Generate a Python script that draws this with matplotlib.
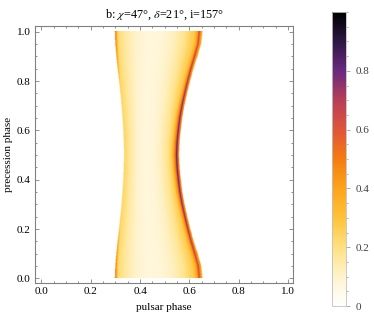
import numpy as np
import matplotlib
matplotlib.use("Agg")
import matplotlib.pyplot as plt
from matplotlib.colors import LinearSegmentedColormap
from matplotlib.ticker import MultipleLocator, FormatStrFormatter

# ---- data ----
prec_phase = [0.0, 0.05, 0.1, 0.15, 0.2, 0.25, 0.3, 0.35, 0.4, 0.45, 0.5,
              0.55, 0.6, 0.65, 0.7, 0.75, 0.8, 0.85, 0.9, 0.95, 1.0]
left_edge  = [0.299, 0.301, 0.305, 0.310, 0.316, 0.321, 0.326, 0.330, 0.333, 0.335, 0.336,
              0.335, 0.333, 0.330, 0.326, 0.321, 0.316, 0.310, 0.305, 0.301, 0.299]
peak_pos   = [0.641, 0.636, 0.622, 0.607, 0.594, 0.582, 0.571, 0.562, 0.556, 0.551, 0.549,
              0.551, 0.556, 0.562, 0.571, 0.582, 0.594, 0.607, 0.622, 0.636, 0.641]
right_gap  = [0.013, 0.013, 0.012, 0.011, 0.010, 0.010, 0.010, 0.010, 0.010, 0.010, 0.010,
              0.010, 0.010, 0.010, 0.010, 0.010, 0.010, 0.011, 0.012, 0.013, 0.013]
left_amp   = [0.55, 0.50, 0.45, 0.38, 0.30, 0.25, 0.22, 0.20, 0.18, 0.17, 0.17,
              0.17, 0.18, 0.20, 0.22, 0.25, 0.30, 0.38, 0.45, 0.50, 0.55]
peak_amp   = [0.66, 0.68, 0.72, 0.76, 0.80, 0.83, 0.86, 0.88, 0.90, 0.91, 0.92,
              0.91, 0.90, 0.88, 0.86, 0.83, 0.80, 0.76, 0.72, 0.68, 0.66]
peak_width = [1.8, 1.7, 1.5, 1.3, 1.15, 1.05, 1.0, 1.0, 1.0, 1.0, 1.0,
              1.0, 1.0, 1.0, 1.0, 1.0, 1.05, 1.15, 1.3, 1.5, 1.7]
# interior profile vs fractional position between left edge and peak
frac_pos   = [0.0, 0.05, 0.12, 0.25, 0.40, 0.55, 0.70, 0.82, 0.90, 1.0]
frac_val   = [0.24, 0.21, 0.16, 0.10, 0.07, 0.08, 0.12, 0.18, 0.25, 0.30]
# left-edge decay vs distance from edge (relative)
left_dist  = [0.0, 0.004, 0.008, 0.016, 0.03]
left_rel   = [1.0, 0.85, 0.6, 0.3, 0.0]
# peak profile vs offset from peak (relative)
peak_off   = [-0.035, -0.018, -0.008, -0.003, 0.0, 0.003, 0.007, 0.012]
peak_rel   = [0.0, 0.33, 0.5, 0.68, 1.0, 0.68, 0.55, 0.45]

# ---- build image ----
ny, nx = 246, 800
ys = np.linspace(0, 1, ny)
xs = np.linspace(0, 1, nx)
img = np.zeros((ny, nx))
for j, p in enumerate(ys):
    L = np.interp(p, prec_phase, left_edge)
    P = np.interp(p, prec_phase, peak_pos)
    R = P + np.interp(p, prec_phase, right_gap)
    la = np.interp(p, prec_phase, left_amp)
    pa = np.interp(p, prec_phase, peak_amp)
    w = np.interp(p, prec_phase, peak_width)
    inside = (xs >= L) & (xs <= R)
    u = np.clip((xs - L) / (P - L), 0, 1)
    base = np.interp(u, frac_pos, frac_val)
    lc = la * np.interp(xs - L, left_dist, left_rel)
    pc = pa * np.interp((xs - P) / w, peak_off, peak_rel, left=0, right=0.45)
    val = np.maximum(np.maximum(base, lc), pc)
    img[j] = np.where(inside, val, 0.0)

colors = [(0.0, "#ffffff"), (0.1, "#fff3cc"), (0.2, "#ffe080"), (0.3, "#ffc23a"),
          (0.4, "#fca41c"), (0.5, "#f47c10"), (0.6, "#e0553a"), (0.7, "#b93e56"),
          (0.8, "#6a2a80"), (0.9, "#2e1845"), (1.0, "#000000")]
cmap = LinearSegmentedColormap.from_list("sun", colors)

plt.rcParams['font.family'] = ['Liberation Serif', 'DejaVu Serif']
plt.rcParams['mathtext.fontset'] = 'stix'
fs = 8

fig = plt.figure(figsize=(3.74, 3.26), dpi=100)
ax = fig.add_axes([0.0936, 0.131, 0.690, 0.790])
im = ax.imshow(img, origin='lower', extent=[0, 1, 0, 1], cmap=cmap, vmin=0, vmax=1,
               aspect='auto', interpolation='bilinear')
ax.set_xlim(-0.026, 1.02)
ax.set_ylim(-0.02, 1.024)
ax.xaxis.set_major_locator(MultipleLocator(0.2))
ax.yaxis.set_major_locator(MultipleLocator(0.2))
ax.xaxis.set_minor_locator(MultipleLocator(0.05))
ax.yaxis.set_minor_locator(MultipleLocator(0.05))
ax.tick_params(which='both', direction='in', top=True, right=True, color='#808080',
               labelsize=fs, width=0.6, pad=3)
ax.tick_params(which='major', length=3)
ax.tick_params(which='minor', length=1.6)
ax.xaxis.set_major_formatter(FormatStrFormatter('%.1f'))
ax.yaxis.set_major_formatter(FormatStrFormatter('%.1f'))
for s in ax.spines.values():
    s.set_color('#808080')
    s.set_linewidth(0.8)
ax.set_xlabel('pulsar phase', fontsize=fs, labelpad=5)
ax.set_ylabel('precession phase', fontsize=fs, labelpad=3)
ax.set_title(r'b: $\chi$=47°, $\delta$=21°, i=157°', fontsize=8.8, pad=6)

cax = fig.add_axes([0.888, 0.061, 0.0374, 0.902])
cb = fig.colorbar(im, cax=cax)
cb.set_ticks([0, 0.2, 0.4, 0.6, 0.8])
cb.set_ticklabels(['0', '0.2', '0.4', '0.6', '0.8'])
cax.yaxis.set_minor_locator(MultipleLocator(0.05))
cax.tick_params(which='both', direction='out', color='#a0a0a0', labelsize=fs,
                labelcolor='#404040', width=0.6)
cax.tick_params(which='major', length=3)
cax.tick_params(which='minor', length=1.6)
cb.outline.set_edgecolor('#c0c0c0')
cb.outline.set_linewidth(0.6)

fig.savefig('out.png', dpi=100)
